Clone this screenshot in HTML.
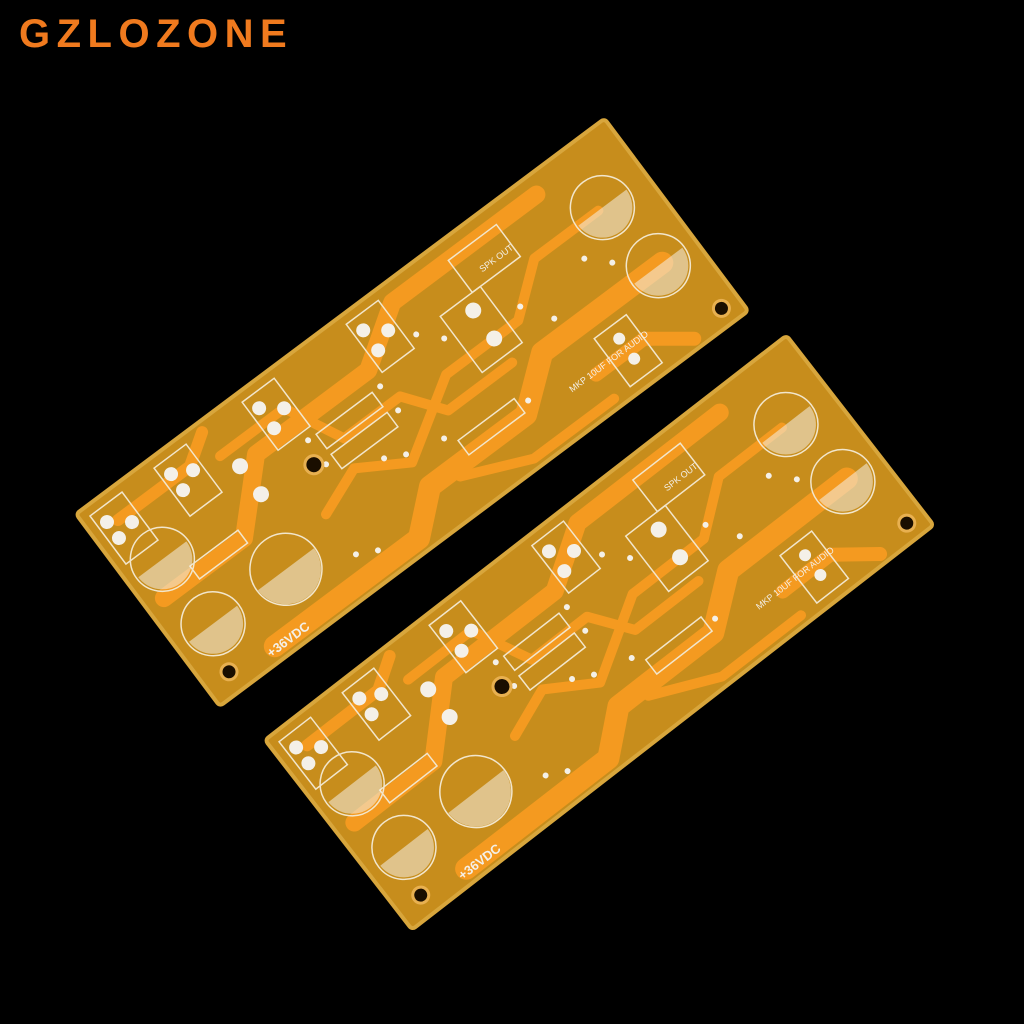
<!DOCTYPE html>
<html><head><meta charset="utf-8"><style>
html,body{margin:0;padding:0;background:#000;}
body{width:1024px;height:1024px;overflow:hidden;position:relative;}
.logo{position:absolute;left:19px;top:12px;font:bold 40px "Liberation Sans",sans-serif;color:#f07a1e;letter-spacing:6.5px;}
</style></head><body>
<svg width="1024" height="1024" viewBox="0 0 1024 1024" style="position:absolute;left:0;top:0">
<defs>
<g id="board">
  <rect x="0" y="0" width="660" height="240" rx="4" fill="#c78d1c" stroke="#d8a63c" stroke-width="4"/>
  <g fill="none" stroke="#f49a20" stroke-linecap="round" stroke-linejoin="round">
    <path d="M20 120 L120 120 L180 60 L320 60 L380 20 L560 20" stroke-width="18"/>
    <path d="M80 225 L260 225 L300 190 L420 190 L470 150 L620 150" stroke-width="22"/>
    <path d="M150 40 L230 40 L260 100 L330 100 L360 140 L440 140" stroke-width="10"/>
    <path d="M200 150 L250 130 L300 160 L380 110 L470 110 L520 70 L600 70" stroke-width="10"/>
    <path d="M30 30 L120 30 L150 10" stroke-width="12"/>
    <path d="M500 200 L560 200 L600 230" stroke-width="14"/>
    <path d="M330 200 L400 230 L500 230" stroke-width="10"/>
  </g>
  <g fill="none" stroke="#f2e6cc" stroke-width="1.5">
    <circle cx="42" cy="88" r="32"/><circle cx="44" cy="170" r="32"/>
    <circle cx="135" cy="170" r="36"/>
    <circle cx="605" cy="70" r="32"/><circle cx="615" cy="150" r="32"/>
    <rect x="10" y="10" width="40" height="60"/><rect x="90" y="10" width="40" height="60"/>
    <rect x="200" y="10" width="40" height="60"/><rect x="330" y="10" width="40" height="60"/>
    <rect x="410" y="60" width="50" height="70"/><rect x="520" y="170" width="40" height="60"/>
    <rect x="240" y="80" width="70" height="18"/><rect x="240" y="105" width="70" height="18"/>
    <rect x="350" y="170" width="70" height="18"/><rect x="60" y="110" width="60" height="16"/>
    <rect x="450" y="20" width="60" height="40"/>
  </g>
  <g fill="#f4f0e8">
    <path d="M12 88 A30 30 0 0 0 72 88Z" opacity=".55"/>
    <path d="M14 170 A30 30 0 0 0 74 170Z" opacity=".55"/>
    <path d="M100 170 A35 35 0 0 0 170 170Z" opacity=".55"/>
    <path d="M575 70 A30 30 0 0 0 635 70Z" opacity=".55"/>
    <path d="M585 150 A30 30 0 0 0 645 150Z" opacity=".55"/>
    <circle cx="20" cy="25" r="7"/><circle cx="20" cy="45" r="7"/><circle cx="40" cy="40" r="7"/>
    <circle cx="100" cy="25" r="7"/><circle cx="100" cy="45" r="7"/><circle cx="120" cy="35" r="7"/>
    <circle cx="210" cy="25" r="7"/><circle cx="210" cy="50" r="7"/><circle cx="230" cy="40" r="7"/>
    <circle cx="340" cy="25" r="7"/><circle cx="340" cy="50" r="7"/><circle cx="360" cy="40" r="7"/>
    <circle cx="160" cy="60" r="8"/><circle cx="160" cy="95" r="8"/>
    <circle cx="440" cy="75" r="8"/><circle cx="440" cy="110" r="8"/>
    <circle cx="540" cy="185" r="6"/><circle cx="540" cy="210" r="6"/>
  </g>
  <g fill="#f4f0e8">
    <circle cx="230" cy="80" r="3"/><circle cx="320" cy="80" r="3"/><circle cx="230" cy="110" r="3"/><circle cx="320" cy="110" r="3"/>
    <circle cx="280" cy="140" r="3"/><circle cx="300" cy="150" r="3"/><circle cx="340" cy="160" r="3"/><circle cx="430" cy="180" r="3"/>
    <circle cx="380" cy="60" r="3"/><circle cx="400" cy="80" r="3"/><circle cx="480" cy="100" r="3"/><circle cx="500" cy="130" r="3"/>
    <circle cx="560" cy="100" r="3"/><circle cx="580" cy="120" r="3"/><circle cx="200" cy="200" r="3"/><circle cx="220" cy="210" r="3"/>
  </g>
  <circle cx="220" cy="103" r="9" fill="#1a0e00" stroke="#e8b050" stroke-width="3"/>
  <circle cx="28" cy="218" r="8" fill="#1a0e00" stroke="#e8b050" stroke-width="3"/>
  <circle cx="640" cy="222" r="8" fill="#1a0e00" stroke="#e8b050" stroke-width="3"/>
  <text x="70" y="232" font-family="Liberation Sans,sans-serif" font-size="13" font-weight="bold" fill="#f4f0e8">+36VDC</text>
  <text x="470" y="200" font-family="Liberation Sans,sans-serif" font-size="9" fill="#f4f0e8">MKP 10UF FOR AUDIO</text>
  <text x="470" y="50" font-family="Liberation Sans,sans-serif" font-size="9" fill="#f4f0e8">SPK OUT</text>
</g>
</defs>
<use href="#board" transform="translate(76,514) rotate(-36.8)"/>
<use href="#board" transform="translate(265,740) rotate(-37.8)"/>
</svg>
<div class="logo">GZLOZONE</div>
</body></html>
